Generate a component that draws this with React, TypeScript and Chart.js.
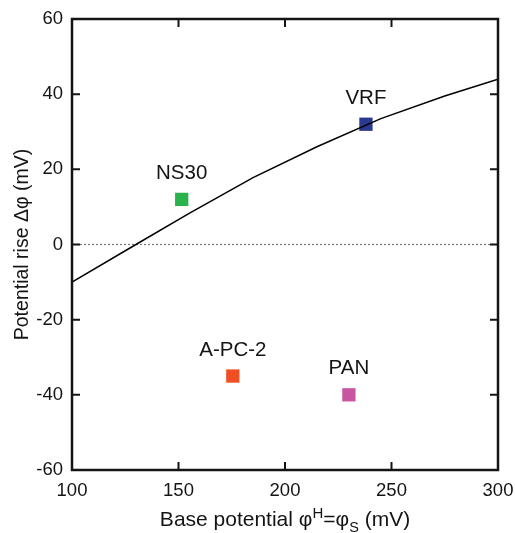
import React, { useEffect, useRef } from "react";
import { Chart, registerables } from "chart.js";

Chart.register(...registerables);

// Model curve
const curveX = [100, 130, 155, 185, 215, 245, 275, 300];
const curveY = [-10, 0, 8.3, 17.8, 26, 33.5, 39.5, 44];

// Materials
const materials = ["NS30", "VRF", "A-PC-2", "PAN"];
const materialX = [151.5, 238, 175.5, 230];
const materialY = [12, 32, -35, -40];
const materialColors = ["#2bb24c", "#2b3990", "#f04e23", "#c855a0"];

const xTicks = [100, 150, 200, 250, 300];
const yTicks = [-60, -40, -20, 0, 20, 40, 60];

const FONT = "'Liberation Sans', Arial, Helvetica, sans-serif";
const INK = "#141414";

const framePlugin = {
  id: "frameTicks",
  afterDraw(chart: any) {
    const { ctx, chartArea } = chart;
    const { left, right, top, bottom } = chartArea;
    const xs = chart.scales.x;
    const ys = chart.scales.y;
    ctx.save();
    ctx.strokeStyle = INK;
    ctx.lineWidth = 2;
    const tl = 8;
    ctx.beginPath();
    xTicks.forEach((v) => {
      if (v === xTicks[0] || v === xTicks[xTicks.length - 1]) return;
      const px = xs.getPixelForValue(v);
      ctx.moveTo(px, bottom);
      ctx.lineTo(px, bottom - tl);
      ctx.moveTo(px, top);
      ctx.lineTo(px, top + tl);
    });
    yTicks.forEach((v) => {
      if (v === yTicks[0] || v === yTicks[yTicks.length - 1]) return;
      const py = ys.getPixelForValue(v);
      ctx.moveTo(left, py);
      ctx.lineTo(left + tl, py);
      ctx.moveTo(right, py);
      ctx.lineTo(right - tl, py);
    });
    ctx.stroke();
    ctx.lineWidth = 2.5;
    ctx.strokeRect(left, top, right - left, bottom - top);

    // point labels
    ctx.fillStyle = INK;
    ctx.font = `20.5px ${FONT}`;
    ctx.textAlign = "center";
    ctx.textBaseline = "middle";
    for (let i = 0; i < materials.length; i++) {
      const meta = chart.getDatasetMeta(i + 2);
      const el = meta.data[0];
      if (!el) continue;
      ctx.fillText(materials[i], el.x, el.y - 26);
    }

    // x-axis title with super/subscript
    const parts = [
      { t: "Base potential \u03c6", size: 21, dy: 0 },
      { t: "H", size: 15, dy: -8 },
      { t: "=\u03c6", size: 21, dy: 0 },
      { t: "S", size: 14.5, dy: 6 },
      { t: " (mV)", size: 21, dy: 0 },
    ];
    let total = 0;
    parts.forEach((p) => {
      ctx.font = `${p.size}px ${FONT}`;
      total += ctx.measureText(p.t).width;
    });
    let x = (left + right) / 2 - total / 2;
    const baseY = 525.5;
    ctx.textAlign = "left";
    ctx.textBaseline = "alphabetic";
    parts.forEach((p) => {
      ctx.font = `${p.size}px ${FONT}`;
      ctx.fillText(p.t, x, baseY + p.dy);
      x += ctx.measureText(p.t).width;
    });
    ctx.restore();
  },
};

export default function App() {
  const ref = useRef<HTMLCanvasElement>(null);
  useEffect(() => {
    if (!ref.current) return;
    const datasets: any[] = [
      {
        data: curveX.map((x, i) => ({ x, y: curveY[i] })),
        borderColor: "#000",
        borderWidth: 1.5,
        pointRadius: 0,
        showLine: true,
        fill: false,
      },
      {
        data: [
          { x: xTicks[0], y: 0 },
          { x: xTicks[xTicks.length - 1], y: 0 },
        ],
        borderColor: "#777",
        borderWidth: 1.2,
        borderDash: [2, 2],
        pointRadius: 0,
        showLine: true,
        fill: false,
      },
    ];
    materials.forEach((m, i) => {
      datasets.push({
        label: m,
        data: [{ x: materialX[i], y: materialY[i] }],
        pointStyle: "rect",
        pointRadius: 9.4,
        pointBorderWidth: 0,
        backgroundColor: materialColors[i],
        borderColor: materialColors[i],
        showLine: false,
      });
    });
    const chart = new Chart(ref.current, {
      type: "scatter",
      data: { datasets },
      plugins: [framePlugin],
      options: {
        animation: false,
        responsive: false,
        layout: { padding: { top: 19, right: 17, left: 0, bottom: 0 } },
        plugins: { legend: { display: false }, tooltip: { enabled: false } },
        scales: {
          x: {
            type: "linear",
            min: 100,
            max: 300,
            afterFit: (s: any) => {
              s.height = 63;
              s.paddingLeft = 0;
              s.paddingRight = 0;
            },
            afterBuildTicks: (s: any) => {
              s.ticks = xTicks.map((v) => ({ value: v }));
            },
            grid: { display: false, drawTicks: false },
            border: { display: false },
            ticks: {
              padding: 10,
              color: INK,
              font: { family: FONT, size: 18.5 },
              maxRotation: 0,
            },
          },
          y: {
            type: "linear",
            min: -60,
            max: 60,
            afterFit: (s: any) => {
              s.width = 72;
              s.paddingTop = 0;
              s.paddingBottom = 0;
            },
            afterBuildTicks: (s: any) => {
              s.ticks = yTicks.map((v) => ({ value: v }));
            },
            grid: { display: false, drawTicks: false },
            border: { display: false },
            ticks: {
              padding: 9,
              color: INK,
              font: { family: FONT, size: 18.5 },
            },
            title: {
              display: true,
              text: "Potential rise \u0394\u03c6 (mV)",
              color: INK,
              font: { family: FONT, size: 19.5 },
              padding: { top: 11, bottom: 0 },
            },
          },
        },
      },
    });
    return () => chart.destroy();
  }, []);
  return (
    <div style={{ position: "fixed", left: 0, top: 0, width: 515, height: 533, background: "#fff" }}>
      <canvas ref={ref} width={515} height={533} />
    </div>
  );
}
